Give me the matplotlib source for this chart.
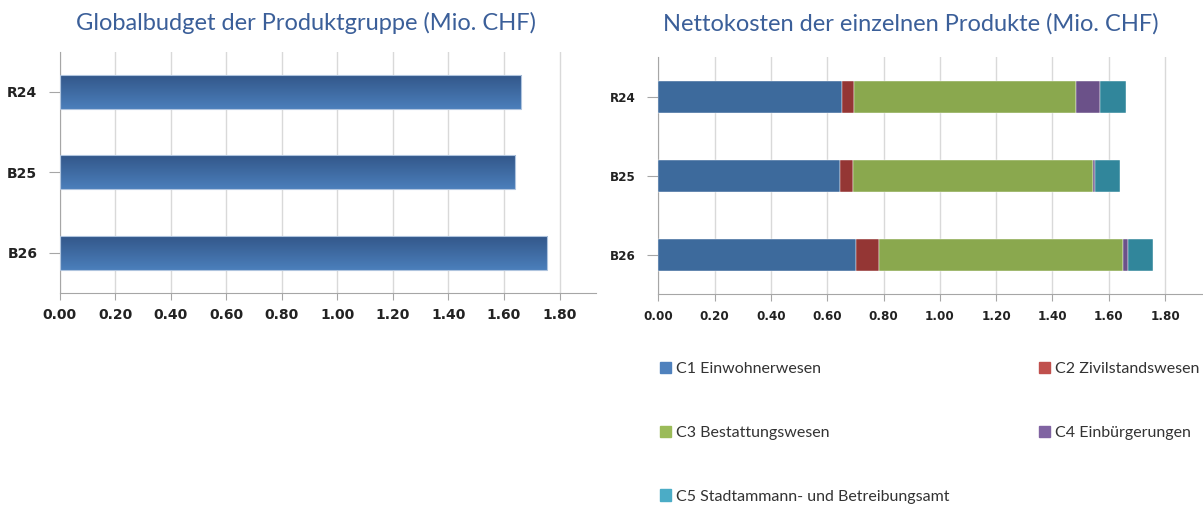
import numpy as np
import matplotlib
matplotlib.use('Agg')
import matplotlib.pyplot as plt
from matplotlib.patches import Patch
from matplotlib.colors import LinearSegmentedColormap

# data
jahre = ['R24', 'B25', 'B26']
globalbudget = [1.66, 1.64, 1.755]

produkte = ['C1 Einwohnerwesen', 'C2 Zivilstandswesen', 'C3 Bestattungswesen',
            'C4 Einbürgerungen', 'C5 Stadtammann- und Betreibungsamt']
c1 = [0.651, 0.647, 0.703]
c2 = [0.044, 0.043, 0.081]
c3 = [0.787, 0.854, 0.867]
c4 = [0.087, 0.006, 0.017]
c5 = [0.091, 0.090, 0.089]
xticks = [0, 0.2, 0.4, 0.6, 0.8, 1.0, 1.2, 1.4, 1.6, 1.8]

bar_cols = ['#3D6A9C', '#943634', '#8AA84E', '#6B5189', '#31869B']
leg_cols = ['#4F81BD', '#C0504D', '#9BBB59', '#8064A2', '#4BACC6']
titel_col = '#3B5F99'

fig = plt.figure(figsize=(12.03, 5.05), dpi=100)
ax1 = fig.add_axes([0.0495, 0.4198, 0.4457, 0.4778])
ax2 = fig.add_axes([0.5472, 0.4172, 0.4517, 0.4693])

y = np.arange(len(jahre))

def style(ax, lblfont, size=10):
    ax.set_xlim(0, 1.93)
    ax.set_ylim(2.5, -0.5)
    ax.set_xticks(xticks)
    ax.set_xticklabels(['%.2f' % v for v in xticks], fontsize=size, fontweight='bold',
                       color='#222222', family=lblfont)
    ax.set_yticks(y)
    ax.set_yticklabels(jahre, fontsize=size, fontweight='bold', color='#222222', family=lblfont)
    ax.grid(axis='x', color='#D9D9D9', lw=1)
    ax.set_axisbelow(True)
    for s in ['top', 'right']:
        ax.spines[s].set_visible(False)
    for s in ['left', 'bottom']:
        ax.spines[s].set_color('#A6A6A6')
    ax.tick_params(axis='x', length=5, color='#A6A6A6', pad=6)
    ax.tick_params(axis='y', length=8, color='#A6A6A6', pad=8)

# links: Globalbudget mit Verlauf
style(ax1, ['DejaVu Sans'])
bars = ax1.barh(y, globalbudget, height=0.42, color='none', edgecolor='#AFC4DE', lw=0.8, zorder=3)
cmap = LinearSegmentedColormap.from_list('blau', ['#33578A', '#4B7FBB'])
grad = np.linspace(0, 1, 100).reshape(-1, 1)
for b in bars:
    x0, y0 = b.get_x(), b.get_y()
    w, h = b.get_width(), b.get_height()
    im = ax1.imshow(grad, cmap=cmap, aspect='auto', extent=[x0, x0 + w, y0 + h, y0], zorder=2)
    im.set_clip_path(b)
ax1.set_xlim(0, 1.93)
ax1.set_ylim(2.5, -0.5)

# rechts: Nettokosten gestapelt (schmalere Schrift)
style(ax2, ['Liberation Sans Narrow', 'DejaVu Sans'], size=9.5)
for t in ax2.get_xticklabels() + ax2.get_yticklabels():
    t.set_fontstretch('condensed')
left = np.zeros(len(jahre))
for werte, bc in zip([c1, c2, c3, c4, c5], bar_cols):
    ax2.barh(y, werte, left=left, height=0.41, color=bc, edgecolor='#FFFFFF', lw=0.3, zorder=3)
    left += np.array(werte)

fig.text(0.254, 0.955, 'Globalbudget der Produktgruppe (Mio. CHF)', ha='center', va='center',
         fontsize=17, color=titel_col, family='Lato')
fig.text(0.757, 0.953, 'Nettokosten der einzelnen Produkte (Mio. CHF)', ha='center', va='center',
         fontsize=17, color=titel_col, family='Lato')

# Legende zeilenweise: Reihenfolge fuer ncol=2 umstellen
handles = [Patch(color=c, label=l) for c, l in zip(leg_cols, produkte)]
order = [0, 2, 4, 1, 3]
fig.legend([handles[i] for i in order], [produkte[i] for i in order], ncol=2,
           loc='upper left', bbox_to_anchor=(0.543, 0.296), frameon=False,
           prop={'family': 'Lato', 'size': 11.5}, labelcolor='#333333',
           handlelength=0.72, handleheight=0.72, handletextpad=0.3,
           columnspacing=5.6, labelspacing=3.1, borderaxespad=0)

fig.savefig('out.png', dpi=100)
